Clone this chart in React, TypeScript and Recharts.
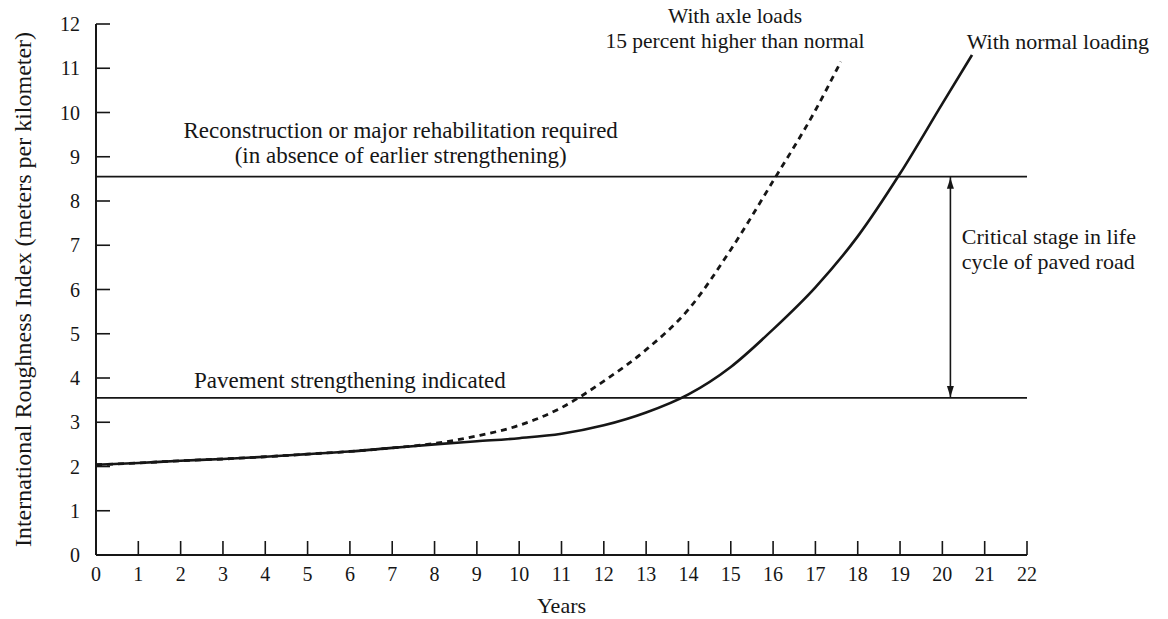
import { ComposedChart, Line, XAxis, YAxis, ReferenceLine, ReferenceDot } from "recharts";

// IRI (m/km)
const normalYears = [0, 1, 2, 3, 4, 5, 6, 7, 8, 9, 10, 11, 12, 13, 14, 15, 16, 17, 18, 19, 20, 20.7];
const normalIri = [2.04, 2.08, 2.13, 2.17, 2.22, 2.28, 2.34, 2.42, 2.5, 2.57, 2.64, 2.74, 2.93, 3.22, 3.63, 4.25, 5.1, 6.05, 7.2, 8.62, 10.2, 11.3];

const heavyYears = [0, 1, 2, 3, 4, 5, 6, 7, 8, 9, 10, 11, 12, 13, 14, 15, 16, 17, 17.6];
const heavyIri = [2.04, 2.08, 2.13, 2.17, 2.22, 2.28, 2.34, 2.42, 2.52, 2.69, 2.93, 3.33, 3.93, 4.64, 5.55, 6.9, 8.45, 10.05, 11.15];

const xTicks = [0, 1, 2, 3, 4, 5, 6, 7, 8, 9, 10, 11, 12, 13, 14, 15, 16, 17, 18, 19, 20, 21, 22];
const yTicks = [0, 1, 2, 3, 4, 5, 6, 7, 8, 9, 10, 11, 12];

const strengtheningLevel = 3.55;
const reconstructionLevel = 8.55;

const normalData = normalYears.map((year, i) => ({ year, iri: normalIri[i] }));
const heavyData = heavyYears.map((year, i) => ({ year, iri: heavyIri[i] }));

const INK = "#161616";
const FONT = "'Liberation Serif', 'DejaVu Serif', serif";

function NoteLabel(props: any) {
  const { viewBox, lines, anchor = "middle", fontSize = 23, lineGap = 25 } = props;
  if (!viewBox) return null;
  const cx = viewBox.x + (viewBox.width || 0) / 2;
  const cy = viewBox.y + (viewBox.height || 0) / 2;
  return (
    <text
      x={cx}
      y={cy}
      textAnchor={anchor}
      fontFamily={FONT}
      fontSize={fontSize}
      fill={INK}
      dominantBaseline="central"
    >
      {lines.map((l: string, i: number) => (
        <tspan key={i} x={cx} dy={i === 0 ? 0 : lineGap}>
          {l}
        </tspan>
      ))}
    </text>
  );
}

function YTitle(props: any) {
  const { viewBox } = props;
  if (!viewBox) return null;
  const x = viewBox.x + 23;
  const y = viewBox.y + viewBox.height / 2;
  return (
    <text
      x={x}
      y={y}
      transform={`rotate(-90 ${x} ${y})`}
      textAnchor="middle"
      dominantBaseline="central"
      fontFamily={FONT}
      fontSize={24}
      fill={INK}
    >
      International Roughness Index (meters per kilometer)
    </text>
  );
}

function XTitle(props: any) {
  const { viewBox } = props;
  if (!viewBox) return null;
  const x = viewBox.x + viewBox.width / 2;
  const y = viewBox.y + 50;
  return (
    <text x={x} y={y} textAnchor="middle" dominantBaseline="central" fontFamily={FONT} fontSize={22} fill={INK}>
      Years
    </text>
  );
}

// double-headed vertical arrow between the two thresholds
function DoubleArrow(props: any) {
  const { x1, y1, x2, y2 } = props;
  if (x1 == null) return null;
  const top = Math.min(y1, y2);
  const bot = Math.max(y1, y2);
  return (
    <g>
      <line x1={x1} y1={top} x2={x2} y2={bot} stroke={INK} strokeWidth={1.6} />
      <path d={`M${x1 - 3.5},${top + 12} L${x1},${top + 1} L${x1 + 3.5},${top + 12} Z`} fill={INK} />
      <path d={`M${x1 - 3.5},${bot - 12} L${x1},${bot - 1} L${x1 + 3.5},${bot - 12} Z`} fill={INK} />
    </g>
  );
}

const tickStyle = { fontFamily: FONT, fontSize: 20, fill: INK };

export default function App() {
  return (
    <div style={{ position: "absolute", left: 0, top: 0, background: "#fff" }}>
      <ComposedChart width={1168} height={619} margin={{ top: 24, right: 141, bottom: 0, left: 0 }}>
        <XAxis
          dataKey="year"
          type="number"
          domain={[0, 22]}
          ticks={xTicks}
          interval={0}
          allowDataOverflow
          height={64}
          tickSize={-14}
          tickMargin={26}
          tick={tickStyle}
          axisLine={{ stroke: INK, strokeWidth: 2 }}
          tickLine={{ stroke: INK, strokeWidth: 1.6 }}
          label={<XTitle />}
        />
        <YAxis
          type="number"
          domain={[0, 12]}
          ticks={yTicks}
          interval={0}
          allowDataOverflow
          width={96}
          tickSize={-14}
          tickMargin={30}
          tick={tickStyle}
          axisLine={{ stroke: INK, strokeWidth: 2 }}
          tickLine={{ stroke: INK, strokeWidth: 1.6 }}
          label={<YTitle />}
        />

        <ReferenceLine y={reconstructionLevel} stroke={INK} strokeWidth={1.8} ifOverflow="visible" />
        <ReferenceLine y={strengtheningLevel} stroke={INK} strokeWidth={1.8} ifOverflow="visible" />
        <ReferenceLine
          segment={[
            { x: 20.19, y: reconstructionLevel },
            { x: 20.19, y: strengtheningLevel },
          ]}
          ifOverflow="visible"
          shape={<DoubleArrow />}
        />

        <Line
          data={normalData}
          dataKey="iri"
          type="monotone"
          stroke={INK}
          strokeWidth={2.6}
          dot={false}
          activeDot={false}
          isAnimationActive={false}
        />
        <Line
          data={heavyData}
          dataKey="iri"
          type="monotone"
          stroke={INK}
          strokeWidth={2.8}
          strokeDasharray="6 5"
          dot={false}
          activeDot={false}
          isAnimationActive={false}
        />

        <ReferenceDot
          x={7.2}
          y={9.6}
          r={0}
          fill="none"
          stroke="none"
          ifOverflow="visible"
          label={<NoteLabel lines={["Reconstruction or major rehabilitation required", "(in absence of earlier strengthening)"]} lineGap={25} fontSize={23} />}
        />
        <ReferenceDot
          x={6.0}
          y={3.95}
          r={0}
          fill="none"
          stroke="none"
          ifOverflow="visible"
          label={<NoteLabel lines={["Pavement strengthening indicated"]} fontSize={23} />}
        />
        <ReferenceDot
          x={15.1}
          y={12.18}
          r={0}
          fill="none"
          stroke="none"
          ifOverflow="visible"
          label={<NoteLabel lines={["With axle loads", "15 percent higher than normal"]} lineGap={25} fontSize={21.5} />}
        />
        <ReferenceDot
          x={22.73}
          y={11.62}
          r={0}
          fill="none"
          stroke="none"
          ifOverflow="visible"
          label={<NoteLabel lines={["With normal loading"]} fontSize={22} />}
        />
        <ReferenceDot
          x={20.46}
          y={7.2}
          r={0}
          fill="none"
          stroke="none"
          ifOverflow="visible"
          label={<NoteLabel lines={["Critical stage in life", "cycle of paved road"]} anchor="start" lineGap={25} fontSize={22} />}
        />
      </ComposedChart>
    </div>
  );
}
